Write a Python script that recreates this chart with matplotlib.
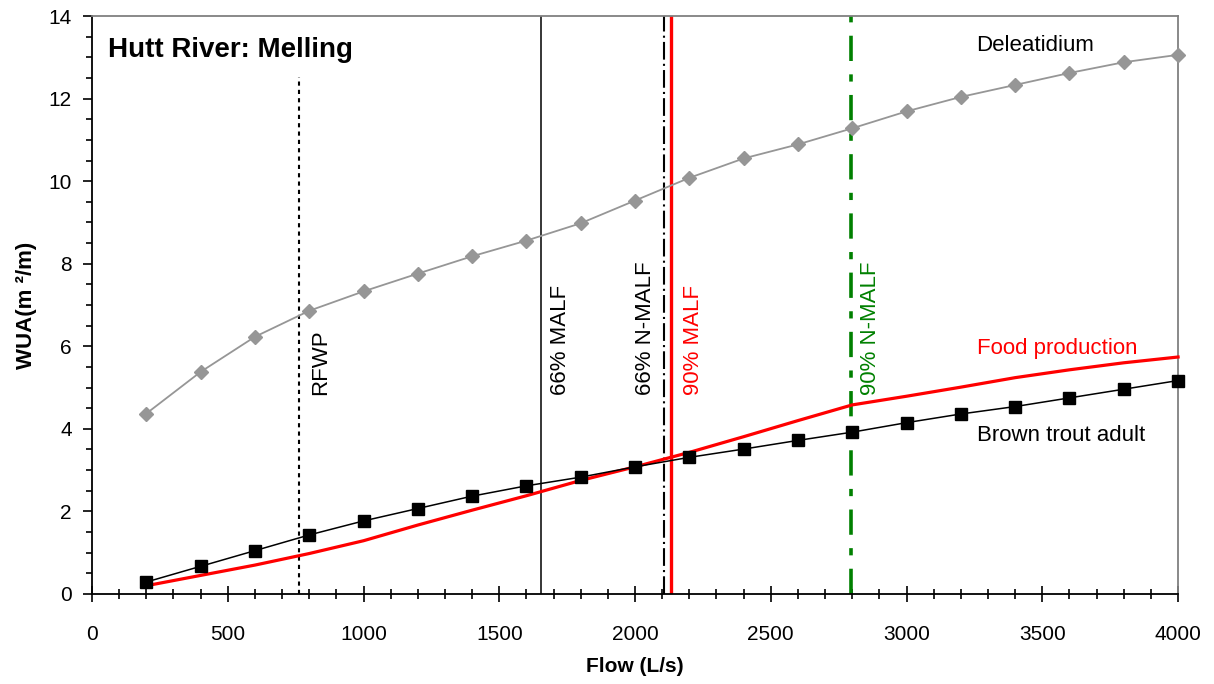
import matplotlib
matplotlib.use('Agg')
import matplotlib.pyplot as plt
from matplotlib.ticker import MultipleLocator

plt.rcParams['font.family'] = ['Liberation Sans', 'DejaVu Sans']

# flows (L/s)
flow = [200, 400, 600, 800, 1000, 1200, 1400, 1600, 1800, 2000,
        2200, 2400, 2600, 2800, 3000, 3200, 3400, 3600, 3800, 4000]

# WUA (m2/m)
deleatidium = [4.37, 5.38, 6.23, 6.86, 7.33, 7.76, 8.18, 8.56, 8.98, 9.53,
               10.08, 10.55, 10.89, 11.28, 11.69, 12.04, 12.33, 12.62, 12.88, 13.06]
brown_trout = [0.29, 0.67, 1.05, 1.43, 1.77, 2.07, 2.37, 2.62, 2.83, 3.08,
               3.31, 3.51, 3.72, 3.92, 4.15, 4.36, 4.54, 4.75, 4.96, 5.17]
food_prod = [0.2, 0.45, 0.70, 0.98, 1.29, 1.67, 2.03, 2.38, 2.75, 3.08,
             3.43, 3.81, 4.2, 4.58, 4.79, 5.01, 5.24, 5.43, 5.6, 5.74]

# reference flows
rfwp = 762
malf66 = 1652
nmalf66 = 2106
malf90 = 2131
nmalf90 = 2796

fig = plt.figure(figsize=(12.14, 6.84), dpi=100)
ax = fig.add_axes([0.0758, 0.1316, 0.8946, 0.8450])

# vertical reference lines
ax.plot([rfwp, rfwp], [0, 12.53], color='black', lw=1.5, linestyle=(0, (2, 2)))
ax.axvline(malf66, color='black', lw=1.1)
ax.axvline(nmalf66, color='black', lw=1.5, linestyle=(0, (8.5, 2, 1, 2)))
ax.axvline(malf90, color='red', lw=2.4)
ax.axvline(nmalf90, color='#008000', lw=2.6, linestyle=(0, (7, 3.7, 2, 3.7)))

# series
ax.plot(flow, food_prod, color='red', lw=2.3, clip_on=False, zorder=3)
ax.plot(flow, brown_trout, color='black', lw=1.1, marker='s', markersize=8,
        clip_on=False, zorder=4)
ax.plot(flow, deleatidium, color='#969696', lw=1.3, marker='D', markersize=7,
        clip_on=False, zorder=4)

ax.set_xlim(0, 4000)
ax.set_ylim(0, 14)
ax.xaxis.set_major_locator(MultipleLocator(500))
ax.xaxis.set_minor_locator(MultipleLocator(100))
ax.yaxis.set_major_locator(MultipleLocator(2))
ax.yaxis.set_minor_locator(MultipleLocator(0.5))

ax.tick_params(axis='x', which='major', direction='inout', length=12, width=1.2,
               labelsize=15, pad=16)
ax.tick_params(axis='x', which='minor', direction='inout', length=7, width=1.2)
ax.tick_params(axis='y', which='major', direction='out', length=6.5, width=1.2,
               labelsize=15, pad=8)
ax.tick_params(axis='y', which='minor', direction='out', length=4.5, width=1.2)

for s in ['left', 'bottom']:
    ax.spines[s].set_color('black')
    ax.spines[s].set_linewidth(1.3)
for s in ['top', 'right']:
    ax.spines[s].set_color('#808080')
    ax.spines[s].set_linewidth(1.3)

ax.set_xlabel('Flow (L/s)', fontsize=15, fontweight='bold', labelpad=10)
ax.set_ylabel('WUA(m ²/m)', fontsize=16, fontweight='bold', labelpad=8)

# annotations
ax.text(60, 13.17, 'Hutt River: Melling', fontsize=20, fontweight='bold',
        ha='left', va='center')
ax.text(3473, 13.29, 'Deleatidium', fontsize=16, ha='center', va='center')
ax.text(3556, 5.95, 'Food production', fontsize=16, color='red',
        ha='center', va='center')
ax.text(3571, 3.85, 'Brown trout adult', fontsize=16, ha='center', va='center')

vlab_y = 4.82
ax.text(843, vlab_y, 'RFWP', rotation=90, fontsize=16, ha='center', va='bottom')
ax.text(1724, vlab_y, '66% MALF', rotation=90, fontsize=16, ha='center', va='bottom')
ax.text(2040, vlab_y, '66% N-MALF', rotation=90, fontsize=16, ha='center', va='bottom')
ax.text(2215, vlab_y, '90% MALF', rotation=90, fontsize=16, color='red',
        ha='center', va='bottom')
ax.text(2866, vlab_y, '90% N-MALF', rotation=90, fontsize=16, color='#008000',
        ha='center', va='bottom')

fig.savefig('out.png', dpi=100)
